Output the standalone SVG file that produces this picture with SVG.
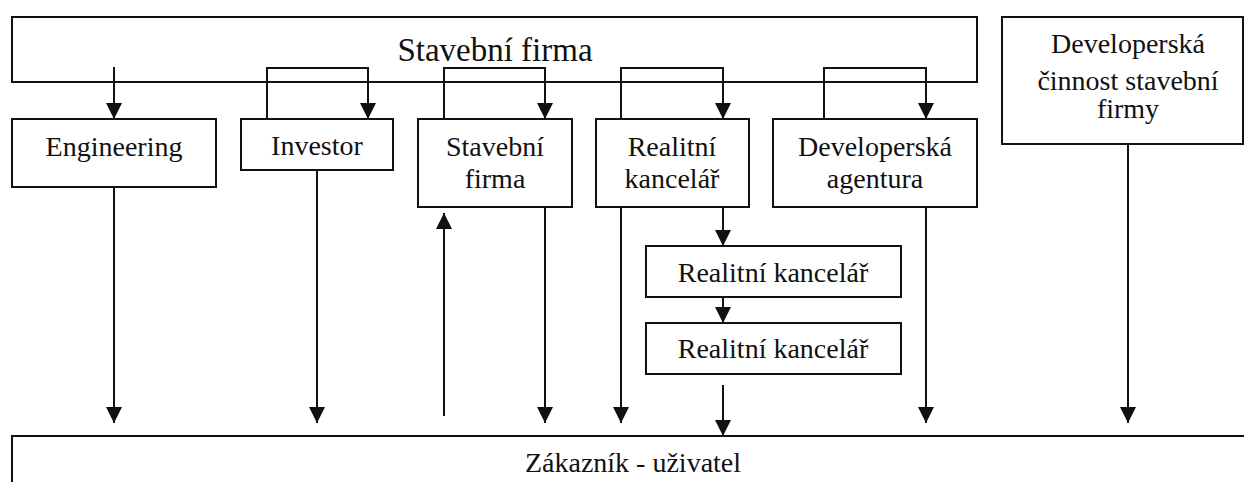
<svg xmlns="http://www.w3.org/2000/svg" width="1244" height="482" viewBox="0 0 1244 482">
<style>
.box{fill:#fff;stroke:#111;stroke-width:2}
.lbl{font-family:'Liberation Serif','Times New Roman',Times,serif;font-size:28px;fill:#111;text-anchor:middle}
.big{font-size:33px}
.con{fill:none;stroke:#111;stroke-width:2;marker-end:url(#ah)}
</style>
<defs>
<marker id="ah" viewBox="0 0 16 16" refX="16" refY="8" markerWidth="16" markerHeight="16" markerUnits="userSpaceOnUse" orient="auto">
<path d="M0,0 L16,8 L0,16 z" fill="#111"/>
</marker>
</defs>
<rect width="1244" height="482" fill="#fff"/>
<g id="top-firm"><rect class="box" x="12" y="17" width="965" height="65"/><text class="lbl big" x="495" y="61">Stavební firma</text></g>
<g id="dev-activity"><rect class="box" x="1002" y="17" width="241" height="127"/><text class="lbl" x="1128" y="53">Developerská</text><text class="lbl" x="1128" y="90">činnost stavební</text><text class="lbl" x="1128" y="118">firmy</text></g>
<g id="engineering"><rect class="box" x="12" y="119" width="204" height="68"/><text class="lbl" x="114" y="156">Engineering</text></g>
<g id="investor"><rect class="box" x="241" y="119" width="152" height="51"/><text class="lbl" x="317" y="155">Investor</text></g>
<g id="stavebni-firma"><rect class="box" x="418" y="119" width="154" height="88"/><text class="lbl" x="495" y="156">Stavební</text><text class="lbl" x="495" y="188">firma</text></g>
<g id="realitni-kancelar"><rect class="box" x="596" y="119" width="153" height="88"/><text class="lbl" x="672" y="156">Realitní</text><text class="lbl" x="672" y="188">kancelář</text></g>
<g id="dev-agentura"><rect class="box" x="773" y="119" width="204" height="88"/><text class="lbl" x="875" y="156">Developerská</text><text class="lbl" x="875" y="188">agentura</text></g>
<g id="realitni-2"><rect class="box" x="646" y="246" width="255" height="51"/><text class="lbl" x="773" y="282">Realitní kancelář</text></g>
<g id="realitni-3"><rect class="box" x="646" y="323" width="255" height="51"/><text class="lbl" x="773" y="358">Realitní kancelář</text></g>
<g id="zakaznik"><rect class="box" x="12" y="436" width="1250" height="60"/><text class="lbl" x="633" y="472">Zákazník - uživatel</text></g>
<g id="connectors">
<path class="con" d="M114,67 V119"/>
<path class="con" d="M267,119 V68 H368 V119"/>
<path class="con" d="M444,119 V68 H545 V119"/>
<path class="con" d="M621,119 V68 H723 V119"/>
<path class="con" d="M824,119 V68 H926 V119"/>
<path class="con" d="M114,187 V423"/>
<path class="con" d="M317,170 V423"/>
<path class="con" d="M444,416 V213"/>
<path class="con" d="M545,207 V423"/>
<path class="con" d="M621,207 V423"/>
<path class="con" d="M723,207 V246"/>
<path class="con" d="M723,297 V323"/>
<path class="con" d="M723,385 V436"/>
<path class="con" d="M926,207 V423"/>
<path class="con" d="M1128,144 V423"/>
</g>
</svg>
